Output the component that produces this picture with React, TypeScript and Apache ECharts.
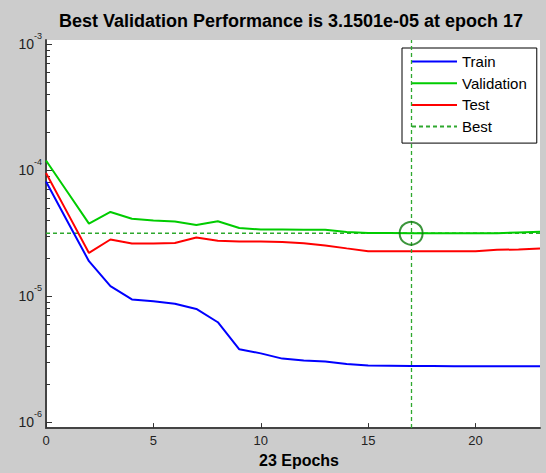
import React, { useEffect, useRef } from "react";
import * as echarts from "echarts";

const epochs = [0, 1, 2, 3, 4, 5, 6, 7, 8, 9, 10, 11, 12, 13, 14, 15, 16, 17, 18, 19, 20, 21, 22, 23];
const trainPerf = [8.1e-5, 3.9e-5, 1.89e-5, 1.2e-5, 9.4e-6, 9.1e-6, 8.7e-6, 7.9e-6, 6.2e-6, 3.78e-6, 3.51e-6, 3.19e-6, 3.08e-6, 3.02e-6, 2.89e-6, 2.81e-6, 2.8e-6, 2.79e-6, 2.79e-6, 2.78e-6, 2.78e-6, 2.78e-6, 2.78e-6, 2.78e-6];
const valPerf = [1.19e-4, 6.7e-5, 3.76e-5, 4.65e-5, 4.11e-5, 3.97e-5, 3.9e-5, 3.67e-5, 3.92e-5, 3.47e-5, 3.37e-5, 3.37e-5, 3.36e-5, 3.36e-5, 3.23e-5, 3.17e-5, 3.16e-5, 3.1501e-5, 3.151e-5, 3.152e-5, 3.152e-5, 3.153e-5, 3.2e-5, 3.24e-5];
const testPerf = [9.46e-5, 4.57e-5, 2.2e-5, 2.81e-5, 2.61e-5, 2.61e-5, 2.64e-5, 2.92e-5, 2.75e-5, 2.71e-5, 2.71e-5, 2.69e-5, 2.62e-5, 2.52e-5, 2.39e-5, 2.27e-5, 2.27e-5, 2.27e-5, 2.27e-5, 2.27e-5, 2.27e-5, 2.33e-5, 2.34e-5, 2.38e-5];
const bestEpoch = 17;
const bestValue = 3.1501e-5;
const xTicks = [0, 5, 10, 15, 20];
const yMajorTicks = [1e-6, 1e-5, 1e-4, 1e-3];
const yMinorTicks = [
  2e-6, 3e-6, 4e-6, 5e-6, 6e-6, 7e-6, 8e-6, 9e-6,
  2e-5, 3e-5, 4e-5, 5e-5, 6e-5, 7e-5, 8e-5, 9e-5,
  2e-4, 3e-4, 4e-4, 5e-4, 6e-4, 7e-4, 8e-4, 9e-4,
];
const xMin = 0;
const xMax = 23;
const yMin = 8.96e-7;
const yMax = 1.076e-3;

const FONT = '"Liberation Sans", Arial, sans-serif';
const BEST_COLOR = "#2ea82e";

export default function App() {
  const ref = useRef<HTMLDivElement>(null);
  useEffect(() => {
    if (!ref.current) return;
    const chart = echarts.init(ref.current, undefined, { renderer: "svg" });
    const yLabelFmt = (v: number) => {
      const l = Math.log10(v);
      const e = Math.round(l);
      if (Math.abs(l - e) > 1e-6) return "";
      return `{b|10}{s|${e}}`;
    };
    const yAxisBase = {
      type: "log" as const,
      logBase: 10,
      min: yMin,
      max: yMax,
      splitLine: { show: false },
    };
    const bestLine = { color: BEST_COLOR, width: 1.3, type: [4, 3] as number[] };
    chart.setOption({
      animation: false,
      backgroundColor: "#cccccc",
      textStyle: { fontFamily: FONT },
      graphic: [
        {
          type: "text",
          x: 291,
          y: 21,
          style: {
            text: "Best Validation Performance is 3.1501e-05 at epoch 17",
            font: `bold 18px ${FONT}`,
            fill: "#000",
            align: "center",
            textAlign: "center",
            verticalAlign: "middle",
            textVerticalAlign: "middle",
          },
        },
      ],
      grid: {
        left: 46,
        right: 6,
        top: 40,
        bottom: 44,
        show: true,
        backgroundColor: "#ffffff",
        borderWidth: 0,
      },
      legend: {
        data: ["Train", "Validation", "Test", "Best"],
        orient: "vertical",
        left: 402,
        top: 48,
        backgroundColor: "#ffffff",
        borderColor: "#000000",
        borderWidth: 1,
        borderRadius: 0,
        padding: [6, 10, 9, 9],
        itemWidth: 45,
        itemHeight: 14,
        itemGap: 6.7,
        itemStyle: { opacity: 0 },
        textStyle: { fontSize: 15, color: "#000", fontFamily: FONT },
        selectedMode: false,
      },
      xAxis: {
        type: "value",
        min: xMin,
        max: xMax,
        splitLine: { show: false },
        axisLine: { show: true, lineStyle: { color: "#444", width: 2 } },
        axisTick: { show: true, inside: true, length: 5, customValues: xTicks, lineStyle: { color: "#333" } },
        axisLabel: { customValues: xTicks, fontSize: 13, color: "#222", margin: 6 },
        name: "23 Epochs",
        nameLocation: "middle",
        nameGap: 22,
        nameTextStyle: { fontSize: 16, fontWeight: "bold", color: "#000", padding: [0, 0, 0, 12] },
      },
      yAxis: [
        {
          ...yAxisBase,
          axisLine: { show: true, lineStyle: { color: "#444", width: 2 } },
          axisTick: { show: true, inside: true, length: 6, customValues: yMajorTicks, lineStyle: { color: "#333" } },
          axisLabel: {
            customValues: yMajorTicks,
            formatter: yLabelFmt,
            margin: 4,
            color: "#222",
            rich: {
              b: { fontSize: 14, color: "#222", fontFamily: FONT },
              s: { fontSize: 9, padding: [0, 0, 16, 0], color: "#222", fontFamily: FONT },
            },
          },
        },
        {
          ...yAxisBase,
          position: "left",
          axisLine: { show: false },
          axisTick: { show: true, inside: true, length: 4, customValues: yMinorTicks, lineStyle: { color: "#333" } },
          axisLabel: { show: false },
        },
      ],
      series: [
        {
          name: "Best",
          type: "line",
          symbol: "none",
          data: [[xMin, bestValue], [xMax, bestValue]],
          lineStyle: bestLine,
          itemStyle: { color: BEST_COLOR },
          markLine: {
            symbol: "none",
            silent: true,
            label: { show: false },
            lineStyle: bestLine,
            emphasis: { disabled: true },
            data: [{ xAxis: bestEpoch, lineStyle: bestLine }],
          },
        },
        {
          name: "Train",
          type: "line",
          symbol: "none",
          data: epochs.map((e, i) => [e, trainPerf[i]]),
          lineStyle: { color: "#0000ff", width: 2 },
          itemStyle: { color: "#0000ff" },
        },
        {
          name: "Validation",
          type: "line",
          symbol: "none",
          data: epochs.map((e, i) => [e, valPerf[i]]),
          lineStyle: { color: "#00cc00", width: 2 },
          itemStyle: { color: "#00cc00" },
        },
        {
          name: "Test",
          type: "line",
          symbol: "none",
          data: epochs.map((e, i) => [e, testPerf[i]]),
          lineStyle: { color: "#ff0000", width: 2 },
          itemStyle: { color: "#ff0000" },
        },
        {
          name: "BestPoint",
          type: "scatter",
          symbol: "circle",
          symbolSize: 23,
          data: [[bestEpoch, bestValue]],
          itemStyle: { color: "rgba(0,0,0,0)", borderColor: "#0a7a0a", borderWidth: 2 },
          z: 5,
        },
      ],
    });
    return () => chart.dispose();
  }, []);
  return (
    <div
      ref={ref}
      style={{ position: "fixed", left: 0, top: 0, width: 546, height: 473 }}
    />
  );
}
